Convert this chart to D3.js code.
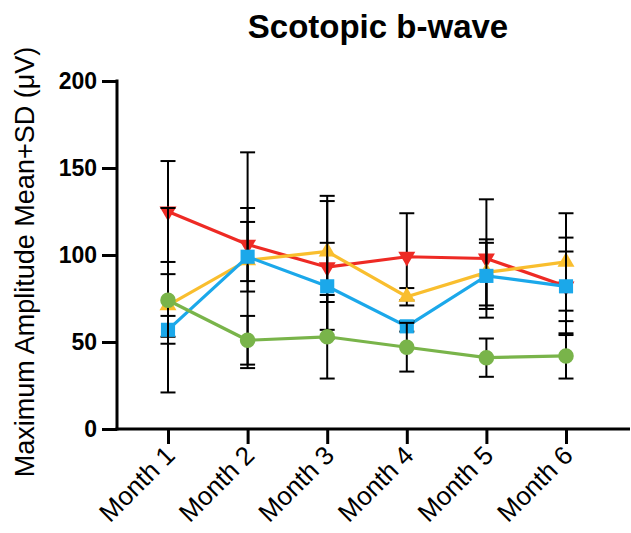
<!DOCTYPE html>
<html>
<head>
<meta charset="utf-8">
<script src="https://cdn.jsdelivr.net/npm/d3@7"></script>
<style>
  body { margin: 0; background: #fff; }
  text { font-family: "Liberation Sans", Arial, sans-serif; }
</style>
</head>
<body>
<div id="container"></div>
<script>
var months = ['Month 1', 'Month 2', 'Month 3', 'Month 4', 'Month 5', 'Month 6'];
var yTicks = [0, 50, 100, 150, 200];

var redMean = [125, 106, 93, 99, 98, 82],
    redSD = [29, 21, 41, 25, 34, 28];
var yellowMean = [71, 97, 102, 76, 90, 96],
    yellowSD = [18, 62, 29, 5, 19, 28];
var blueMean = [57, 99, 82, 59, 88, 82],
    blueSD = [8, 20, 25, 3, 19, 20];
var greenMean = [74, 51, 53, 47, 41, 42],
    greenSD = [53, 14, 24, 14, 11, 13];

var series = [
    { mean: redMean, sd: redSD, color: '#ee2a24', symbol: d3.symbolTriangle, size: 125, rotate: 180 },
    { mean: yellowMean, sd: yellowSD, color: '#f9be2e', symbol: d3.symbolTriangle, size: 125, rotate: 0 },
    { mean: blueMean, sd: blueSD, color: '#1ba8ea', symbol: d3.symbolSquare, size: 200, rotate: 0 },
    { mean: greenMean, sd: greenSD, color: '#79b44a', symbol: d3.symbolCircle, size: 190, rotate: 0 }
];

var width = 631, height = 533;

var svg = d3.select('#container')
    .append('svg')
    .attr('width', width)
    .attr('height', height);

var x = d3.scalePoint()
    .domain(months)
    .range([168, 566]);

var y = d3.scaleLinear()
    .domain([0, 200])
    .range([429, 81]);

// title
svg.append('text')
    .text('Scotopic b-wave')
    .attr('x', 378)
    .attr('y', 38)
    .attr('text-anchor', 'middle')
    .style('font-size', '33px')
    .style('font-weight', 'bold');

// y label
svg.append('text')
    .text('Maximum Amplitude Mean+SD (μV)')
    .attr('transform', 'translate(34,' + 262 + ') rotate(-90)')
    .attr('text-anchor', 'middle')
    .style('font-size', '27px');

// y axis
var yAxis = svg.append('g')
    .attr('transform', 'translate(117,0)')
    .call(d3.axisLeft(y).tickValues(yTicks).tickSize(15).tickSizeOuter(0).tickPadding(5));
yAxis.select('.domain').remove();
yAxis.selectAll('line').attr('stroke', '#000').attr('stroke-width', 3);
yAxis.selectAll('text')
    .style('font-size', '23px')
    .style('font-weight', 'bold')
    .style('font-family', '"Liberation Sans", Arial, sans-serif')
    .attr('fill', '#000');

svg.append('line')
    .attr('x1', 117).attr('x2', 117)
    .attr('y1', y(200) - 1.5).attr('y2', y(0) + 1.5)
    .attr('stroke', '#000').attr('stroke-width', 3);

// x axis
var xAxis = svg.append('g')
    .attr('transform', 'translate(0,' + y(0) + ')')
    .call(d3.axisBottom(x).tickSize(15).tickSizeOuter(0));
xAxis.select('.domain').remove();
xAxis.selectAll('line').attr('stroke', '#000').attr('stroke-width', 3);
xAxis.selectAll('text')
    .style('font-size', '26px')
    .style('font-family', '"Liberation Sans", Arial, sans-serif')
    .attr('fill', '#000')
    .attr('text-anchor', 'end')
    .attr('dy', null)
    .attr('y', 0)
    .attr('transform', 'translate(8,28) rotate(-45)');

svg.append('line')
    .attr('x1', 115.5).attr('x2', 630)
    .attr('y1', y(0)).attr('y2', y(0))
    .attr('stroke', '#000').attr('stroke-width', 3);

var line = d3.line()
    .x(function(d, i) { return x(months[i]); })
    .y(function(d) { return y(d); });

var capW = 7.5;

series.forEach(function(s) {
    var g = svg.append('g');

    g.append('path')
        .datum(s.mean)
        .attr('d', line)
        .attr('fill', 'none')
        .attr('stroke', s.color)
        .attr('stroke-width', 3.2);

    var eb = g.selectAll('.eb')
        .data(s.mean)
        .enter()
        .append('g');
    eb.append('line')
        .attr('x1', function(d, i) { return x(months[i]); })
        .attr('x2', function(d, i) { return x(months[i]); })
        .attr('y1', function(d, i) { return y(d + s.sd[i]); })
        .attr('y2', function(d, i) { return y(d - s.sd[i]); })
        .attr('stroke', '#000').attr('stroke-width', 2);
    eb.append('line')
        .attr('x1', function(d, i) { return x(months[i]) - capW; })
        .attr('x2', function(d, i) { return x(months[i]) + capW; })
        .attr('y1', function(d, i) { return y(d + s.sd[i]); })
        .attr('y2', function(d, i) { return y(d + s.sd[i]); })
        .attr('stroke', '#000').attr('stroke-width', 2);
    eb.append('line')
        .attr('x1', function(d, i) { return x(months[i]) - capW; })
        .attr('x2', function(d, i) { return x(months[i]) + capW; })
        .attr('y1', function(d, i) { return y(d - s.sd[i]); })
        .attr('y2', function(d, i) { return y(d - s.sd[i]); })
        .attr('stroke', '#000').attr('stroke-width', 2);

    g.selectAll('.mk')
        .data(s.mean)
        .enter()
        .append('path')
        .attr('d', d3.symbol().type(s.symbol).size(s.size))
        .attr('transform', function(d, i) {
            return 'translate(' + x(months[i]) + ',' + y(d) + ') rotate(' + s.rotate + ')';
        })
        .attr('fill', s.color);
});
</script>
</body>
</html>
